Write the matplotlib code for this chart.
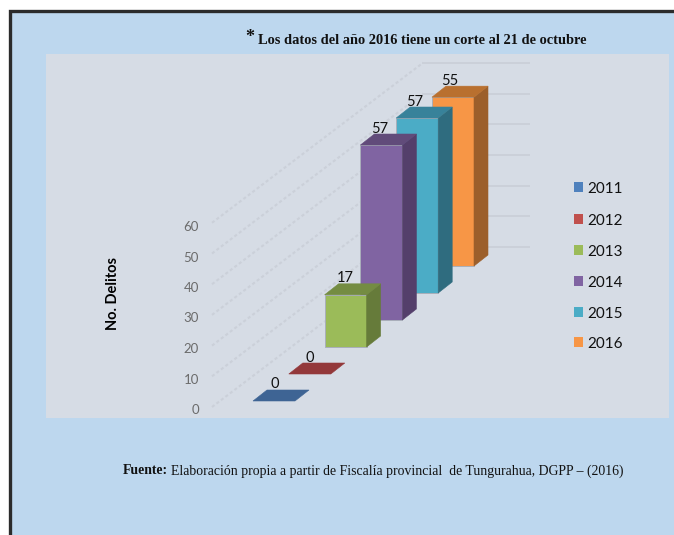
import matplotlib
matplotlib.use("Agg")
import matplotlib.pyplot as plt
from matplotlib.patches import Polygon, Rectangle

years = ["2011", "2012", "2013", "2014", "2015", "2016"]
delitos = [0, 0, 17, 57, 57, 55]
axis_ticks = [0, 10, 20, 30, 40, 50, 60]

front_colors = ["#4F81BD", "#C0504D", "#9BBB59", "#8064A2", "#4BACC6", "#F79646"]
top_colors = ["#3E6494", "#93383A", "#748C42", "#614B7A", "#38829A", "#B9702F"]
side_colors = ["#34547C", "#7C2F2E", "#667B3A", "#543F6B", "#2F6C7F", "#9C5F2B"]

PX_PER_UNIT = 3.07
BAR_W = 42
DEPTH_X, DEPTH_Y = 14, 11
STEP_X, STEP_Y = 35.8, 27


def front_xy(i, value):
    # oblique projection, bar i at the given height
    return 253 + STEP_X * i, 401 - STEP_Y * i - PX_PER_UNIT * value


fig = plt.figure(figsize=(6.74, 5.35), dpi=100, facecolor="white")
ax = fig.add_axes([0, 0, 1, 1])
ax.set_xlim(0, 674)
ax.set_ylim(535, 0)
ax.axis("off")

# page background and chart panel
ax.add_patch(Rectangle((10, 11), 670, 530, fc="#BDD7EE", ec="#2B2B2B", lw=2.4, zorder=0))
ax.add_patch(Rectangle((46, 54), 623, 364, fc="#D6DCE5", ec="none", zorder=1))

# gridlines: diagonal floor part then horizontal back wall part
for t in axis_ticks:
    y_wall = 247 - PX_PER_UNIT * t
    y_start = 407 - PX_PER_UNIT * t
    ax.plot([212, 423], [y_start, y_wall], color="#CBD0D9", lw=1.5, ls=(0, (1.5, 1.2)), zorder=2)
    ax.plot([423, 529], [y_wall, y_wall], color="#CBD0D9", lw=1.4, zorder=2)
    ax.text(199, 410 - 3.05 * t, str(t), ha="right", va="center", fontsize=9.5,
            family="Lato", color="#6B6B6B", zorder=3)

# bars, back to front
for i in reversed(range(len(years))):
    x0, y0 = front_xy(i, 0)
    x1, y1 = front_xy(i, delitos[i])
    z = 10 + (len(years) - i)
    if delitos[i] > 0:
        ax.add_patch(Polygon([(x0, y0), (x0 + BAR_W, y0), (x0 + BAR_W, y1), (x0, y1)],
                             fc=front_colors[i], ec="#A9AFBA", lw=0.7, zorder=z))
        ax.add_patch(Polygon([(x0 + BAR_W, y0), (x0 + BAR_W + DEPTH_X, y0 - DEPTH_Y),
                              (x0 + BAR_W + DEPTH_X, y1 - DEPTH_Y), (x0 + BAR_W, y1)],
                             fc=side_colors[i], ec=side_colors[i], lw=0.4, zorder=z))
    ax.add_patch(Polygon([(x1, y1), (x1 + BAR_W, y1), (x1 + BAR_W + DEPTH_X, y1 - DEPTH_Y),
                          (x1 + DEPTH_X, y1 - DEPTH_Y)],
                         fc=top_colors[i], ec=top_colors[i], lw=0.4, zorder=z))
    ax.text(x1 + BAR_W / 2 + 1 - 0.8 * i, y1 - 16.5, str(delitos[i]), ha="center", va="center",
            fontsize=10.5, family="Lato", color="#111111", zorder=30)

# legend
legend_y = [187, 219, 250, 281, 312, 342]
for year, color, y in zip(years, front_colors, legend_y):
    ax.add_patch(Rectangle((574, y - 5), 9, 9.5, fc=color, ec="none", zorder=3))
    ax.text(587, y + 2, year, ha="left", va="center", fontsize=11, family="Lato",
            color="#111111", zorder=3)

ax.text(113, 293, "No. Delitos", rotation=90, ha="center", va="center", fontsize=10.5,
        family="Lato", fontweight="bold", color="black", zorder=3)

ax.text(245, 38, "*", ha="left", va="center", fontsize=13, family="Liberation Serif",
        fontweight="bold", color="#111111", zorder=3)
ax.text(258, 41, "Los datos del año 2016 tiene un corte al 21 de octubre", ha="left",
        va="center", fontsize=10.35, family="Liberation Serif", fontweight="bold", color="#111111", zorder=3)

ax.text(123, 471, "Fuente:", ha="left", va="center", fontsize=9.9, family="Liberation Serif",
        fontweight="bold", color="#111111", zorder=3)
ax.text(171, 471, "Elaboración propia a partir de Fiscalía provincial  de Tungurahua, DGPP – (2016)",
        ha="left", va="center", fontsize=9.9, family="Liberation Serif", color="#111111", zorder=3)

fig.savefig("out.png", dpi=100)
